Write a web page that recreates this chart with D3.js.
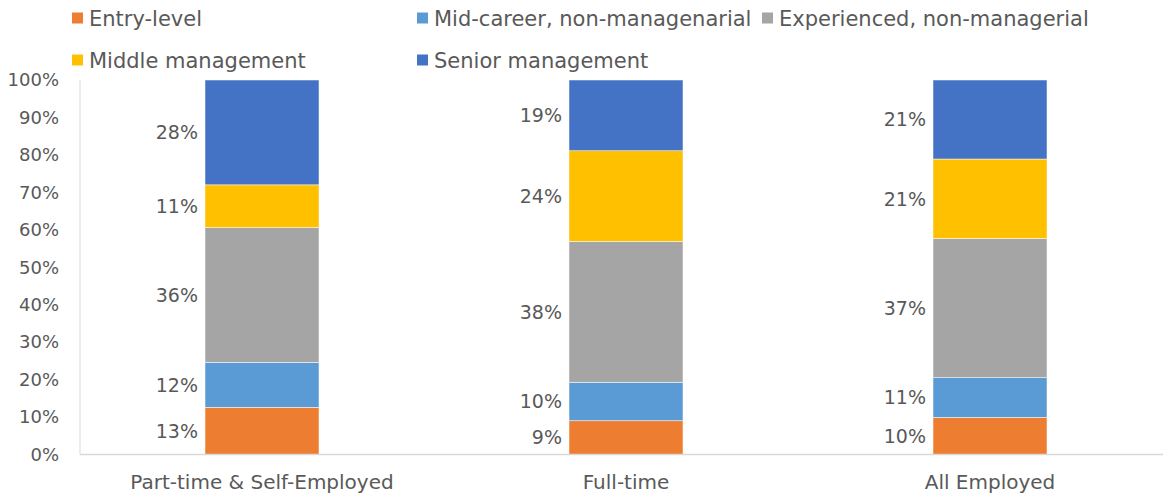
<!DOCTYPE html>
<html>
<head>
<meta charset="utf-8">
<script src="https://cdn.jsdelivr.net/npm/d3@7"></script>
<style>
  html, body { margin: 0; padding: 0; background: #fff; }
  svg { display: block; }
  text { font-family: "DejaVu Sans", sans-serif; fill: #595959; }
</style>
</head>
<body>
<svg id="chart" width="1163" height="495"></svg>
<script>
// ---- data ----
const categories = ["Part-time & Self-Employed", "Full-time", "All Employed"];
const seriesNames = ["Entry-level", "Mid-career, non-managenarial", "Experienced, non-managerial", "Middle management", "Senior management"];
const entryLevel = [12.6, 9.0, 9.9];
const midCareer = [12.0, 10.3, 10.6];
const experienced = [36.0, 37.6, 37.2];
const middleMgmt = [11.4, 24.2, 21.2];
const seniorMgmt = [28.0, 18.9, 21.1];
const yTicks = [0, 10, 20, 30, 40, 50, 60, 70, 80, 90, 100];
const colors = ["#ED7D31", "#5B9BD5", "#A5A5A5", "#FFC000", "#4472C4"];

const seriesValues = [entryLevel, midCareer, experienced, middleMgmt, seniorMgmt];
const table = categories.map((c, i) => {
  const row = { category: c };
  seriesNames.forEach((s, j) => row[s] = seriesValues[j][i]);
  return row;
});

const svg = d3.select("#chart");
const mLeft = 80, mRight = 1172, mTop = 80, mBottom = 454.5;

const x = d3.scaleBand().domain(categories).range([mLeft, mRight])
  .paddingInner(0.6868).paddingOuter(0.3434);
const y = d3.scaleLinear().domain([0, 100]).range([mBottom, mTop]);

const stacked = d3.stack().keys(seriesNames)(table);
const color = d3.scaleOrdinal().domain(seriesNames).range(colors);

// axes lines
svg.append("line").attr("x1", mLeft).attr("x2", mLeft).attr("y1", mTop).attr("y2", mBottom)
  .attr("stroke", "#d9d9d9").attr("stroke-width", 1);

// bars
const groups = svg.append("g").selectAll("g").data(stacked).join("g")
  .attr("fill", d => color(d.key));
groups.selectAll("rect").data(d => d).join("rect")
  .attr("x", d => x(d.data.category))
  .attr("width", x.bandwidth())
  .attr("y", d => y(d[1]))
  .attr("height", d => y(d[0]) - y(d[1]))
  .attr("stroke", "#ffffff").attr("stroke-width", 0.5);

// labels to the left of bars
groups.selectAll("text").data(d => d).join("text")
  .attr("x", d => x(d.data.category) - 7)
  .attr("y", d => (y(d[0]) + y(d[1])) / 2)
  .attr("dy", "0.36em")
  .attr("text-anchor", "end")
  .attr("font-size", 19)
  .attr("fill", "#404040")
  .text(d => Math.round(d[1] - d[0]) + "%");

svg.append("line").attr("x1", mLeft).attr("x2", 1163).attr("y1", mBottom).attr("y2", mBottom)
  .attr("stroke", "#d9d9d9").attr("stroke-width", 1.5);

// y axis
const yAxis = svg.append("g").attr("transform", `translate(${mLeft},0)`)
  .call(d3.axisLeft(y).tickValues(yTicks).tickSize(0).tickPadding(21).tickFormat(d => d + "%"));
yAxis.select(".domain").remove();
yAxis.selectAll("text").attr("font-size", 18).attr("font-family", "DejaVu Sans").attr("fill", "#595959");

// x axis
const xAxis = svg.append("g").attr("transform", `translate(0,${mBottom})`)
  .call(d3.axisBottom(x).tickSize(0).tickPadding(20));
xAxis.select(".domain").remove();
xAxis.selectAll("text").attr("font-size", 20).attr("font-family", "DejaVu Sans").attr("fill", "#595959");

// legend
const legendPos = [[72, 18], [417, 18], [762, 18], [72, 60], [417, 60]];
const legend = svg.append("g").selectAll("g").data(seriesNames).join("g")
  .attr("transform", (d, i) => `translate(${legendPos[i][0]},${legendPos[i][1]})`);
legend.append("rect").attr("x", 0).attr("y", -5.5).attr("width", 11).attr("height", 11)
  .attr("fill", d => color(d));
legend.append("text").attr("x", 17).attr("y", 0).attr("dy", "0.36em")
  .attr("font-size", 21).text(d => d);
</script>
</body>
</html>
